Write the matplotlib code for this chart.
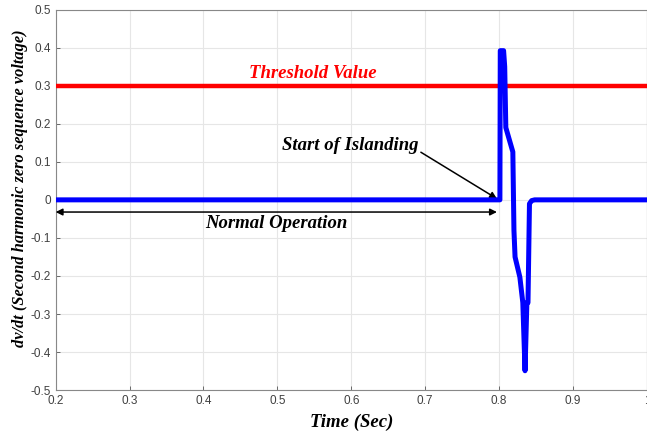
import matplotlib.pyplot as plt

# signal
time = [0.2, 0.8010, 0.8015, 0.8060, 0.8075, 0.8090, 0.8185, 0.8200, 0.8215,
        0.8280, 0.8320, 0.8350, 0.8375, 0.8390, 0.8410, 0.8440, 0.8480, 1.0]
dvdt = [0.0, 0.0, 0.392, 0.392, 0.350, 0.19, 0.126, -0.08, -0.15,
        -0.203, -0.27, -0.449, -0.27, -0.27, -0.01, -0.002, 0.0, 0.0]
threshold = 0.3

xticks = [0.2, 0.3, 0.4, 0.5, 0.6, 0.7, 0.8, 0.9, 1.0]
xticklabels = ['0.2', '0.3', '0.4', '0.5', '0.6', '0.7', '0.8', '0.9', '1']
yticks = [-0.5, -0.4, -0.3, -0.2, -0.1, 0, 0.1, 0.2, 0.3, 0.4, 0.5]
yticklabels = ['-0.5', '-0.4', '-0.3', '-0.2', '-0.1', '0', '0.1', '0.2', '0.3', '0.4', '0.5']

serif = dict(family='Liberation Serif', weight='bold', style='italic')

fig = plt.figure(figsize=(6.47, 4.34), dpi=100)
ax = fig.add_axes([0.086, 0.101, 0.914, 0.877])

ax.axhline(threshold, color='#ff0000', lw=3.2, zorder=3)
ax.plot(time, dvdt, color='#0000ff', lw=3.6, zorder=4)

ax.set_xlim(0.2, 1.0)
ax.set_ylim(-0.5, 0.5)
ax.set_xticks(xticks)
ax.set_xticklabels(xticklabels)
ax.set_yticks(yticks)
ax.set_yticklabels(yticklabels)
for lab in ax.get_xticklabels() + ax.get_yticklabels():
    lab.set_family('Liberation Sans')
ax.grid(True, color='#e6e6e6', lw=0.8)
ax.set_axisbelow(True)
ax.tick_params(direction='in', length=3, labelsize=8.5, labelcolor='#404040',
               color='#555555', width=0.6)
for s in ax.spines.values():
    s.set_color('#888888')
    s.set_linewidth(0.8)

ax.set_xlabel('Time (Sec)', fontsize=13.5, labelpad=5, **serif)
ax.set_ylabel('dv/dt (Second harmonic zero sequence voltage)', fontsize=11.8,
              **serif)
ax.yaxis.set_label_coords(-0.046, 0.53)

ax.text(0.548, 0.333, 'Threshold Value', color='#ff0000', fontsize=13.5,
        ha='center', va='center', **serif)
ax.annotate('Start of Islanding', xy=(0.797, 0.003), xytext=(0.598, 0.143),
            fontsize=13.5, ha='center', va='center', **serif,
            arrowprops=dict(arrowstyle='-|>', color='black', lw=1.1,
                            shrinkA=0, shrinkB=0, mutation_scale=10,
                            relpos=(1.0, 0.2)))
ax.annotate('', xy=(0.2, -0.032), xytext=(0.797, -0.032),
            arrowprops=dict(arrowstyle='<|-|>', color='black', lw=1.1,
                            shrinkA=0, shrinkB=0, mutation_scale=10))
ax.text(0.499, -0.062, 'Normal Operation', fontsize=13.5, ha='center',
        va='center', **serif)

fig.savefig('out.png', dpi=100)
